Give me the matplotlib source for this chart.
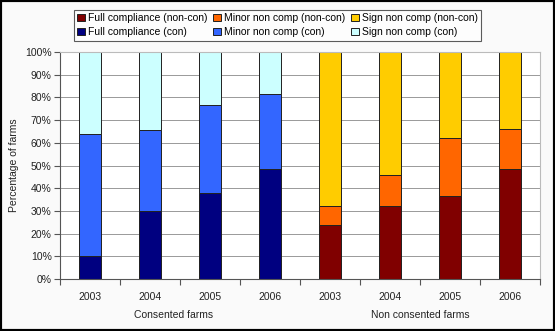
import matplotlib.pyplot as plt
import matplotlib.transforms as mtransforms
from matplotlib.patches import Rectangle

plt.rcParams['font.family'] = ['Liberation Sans', 'DejaVu Sans']

years = ['2003', '2004', '2005', '2006']
groups = ['Consented farms', 'Non consented farms']

# consented farms (%)
full_con = [10, 30, 38, 48.5]
minor_con = [53.7, 35.5, 38.5, 33]
sign_con = [36.3, 34.5, 23.5, 18.5]

# non consented farms (%)
full_nc = [23.8, 32.3, 36.7, 48.5]
minor_nc = [8.5, 13.5, 25.5, 17.6]
sign_nc = [67.7, 54.2, 37.8, 33.9]

fig = plt.figure(figsize=(5.55, 3.31), dpi=100, facecolor='#fafafa')
ax = fig.add_axes([0.108, 0.157, 0.865, 0.686])
ax.set_facecolor('white')

x_con = list(range(4))
x_nc = list(range(4, 8))
w = 0.38
ec = dict(edgecolor='#202020', linewidth=0.7)

b_fc = ax.bar(x_con, full_con, w, color='#000080', label='Full compliance (con)', **ec)
b_mc = ax.bar(x_con, minor_con, w, bottom=full_con, color='#3366FF', label='Minor non comp (con)', **ec)
bot = [a + b for a, b in zip(full_con, minor_con)]
b_sc = ax.bar(x_con, sign_con, w, bottom=bot, color='#CCFFFF', label='Sign non comp (con)', **ec)

b_fn = ax.bar(x_nc, full_nc, w, color='#800000', label='Full compliance (non-con)', **ec)
b_mn = ax.bar(x_nc, minor_nc, w, bottom=full_nc, color='#FF6600', label='Minor non comp (non-con)', **ec)
bot = [a + b for a, b in zip(full_nc, minor_nc)]
b_sn = ax.bar(x_nc, sign_nc, w, bottom=bot, color='#FFCC00', label='Sign non comp (non-con)', **ec)

ax.set_xlim(-0.5, 7.5)
ax.set_ylim(0, 100)
ax.set_yticks(range(0, 101, 10))
ax.set_yticklabels([f'{v}%' for v in range(0, 101, 10)], fontsize=7.5, color='#222222')
ax.yaxis.grid(True, color='#999999', linewidth=0.7)
ax.set_axisbelow(True)

ax.set_xticks([i - 0.5 for i in range(9)])
ax.set_xticklabels([])
ax.set_xticks(range(8), minor=True)
ax.set_xticklabels(years + years, minor=True, fontsize=7.5, color='#222222')
ax.tick_params(axis='x', which='minor', length=0, pad=9)
ax.tick_params(axis='x', which='major', length=4, color='#555555', direction='out')
ax.tick_params(axis='y', length=4, color='#555555', direction='out', pad=2)

for s in ['left', 'bottom']:
    ax.spines[s].set_color('#555555')
for s in ['top', 'right']:
    ax.spines[s].set_color('#bbbbbb')

trans = mtransforms.blended_transform_factory(ax.transData, ax.transAxes)
ax.text(1.4, -0.16, groups[0], transform=trans, ha='center', va='center', fontsize=7.5, color='#222222')
ax.text(5.5, -0.16, groups[1], transform=trans, ha='center', va='center', fontsize=7.5, color='#222222')

ax.set_ylabel('Percentage of farms', fontsize=7.5, color='#222222', labelpad=4)

handles = [b_fn, b_fc, b_mn, b_mc, b_sn, b_sc]
labels = [h.get_label() for h in handles]
leg = fig.legend(handles, labels, ncol=3, loc='center', bbox_to_anchor=(0.5, 0.924),
                 fontsize=7.5, frameon=True, fancybox=False, edgecolor='#333333',
                 handlelength=0.7, handleheight=0.7, handletextpad=0.3, columnspacing=0.6,
                 labelspacing=0.35, borderpad=0.35, borderaxespad=0)
leg.get_frame().set_linewidth(0.8)
leg.get_frame().set_facecolor('white')

fig.patches.append(Rectangle((0, 0), 1, 1, transform=fig.transFigure, fill=False,
                             edgecolor='black', linewidth=3))

fig.savefig('out.png', dpi=100, facecolor=fig.get_facecolor())
